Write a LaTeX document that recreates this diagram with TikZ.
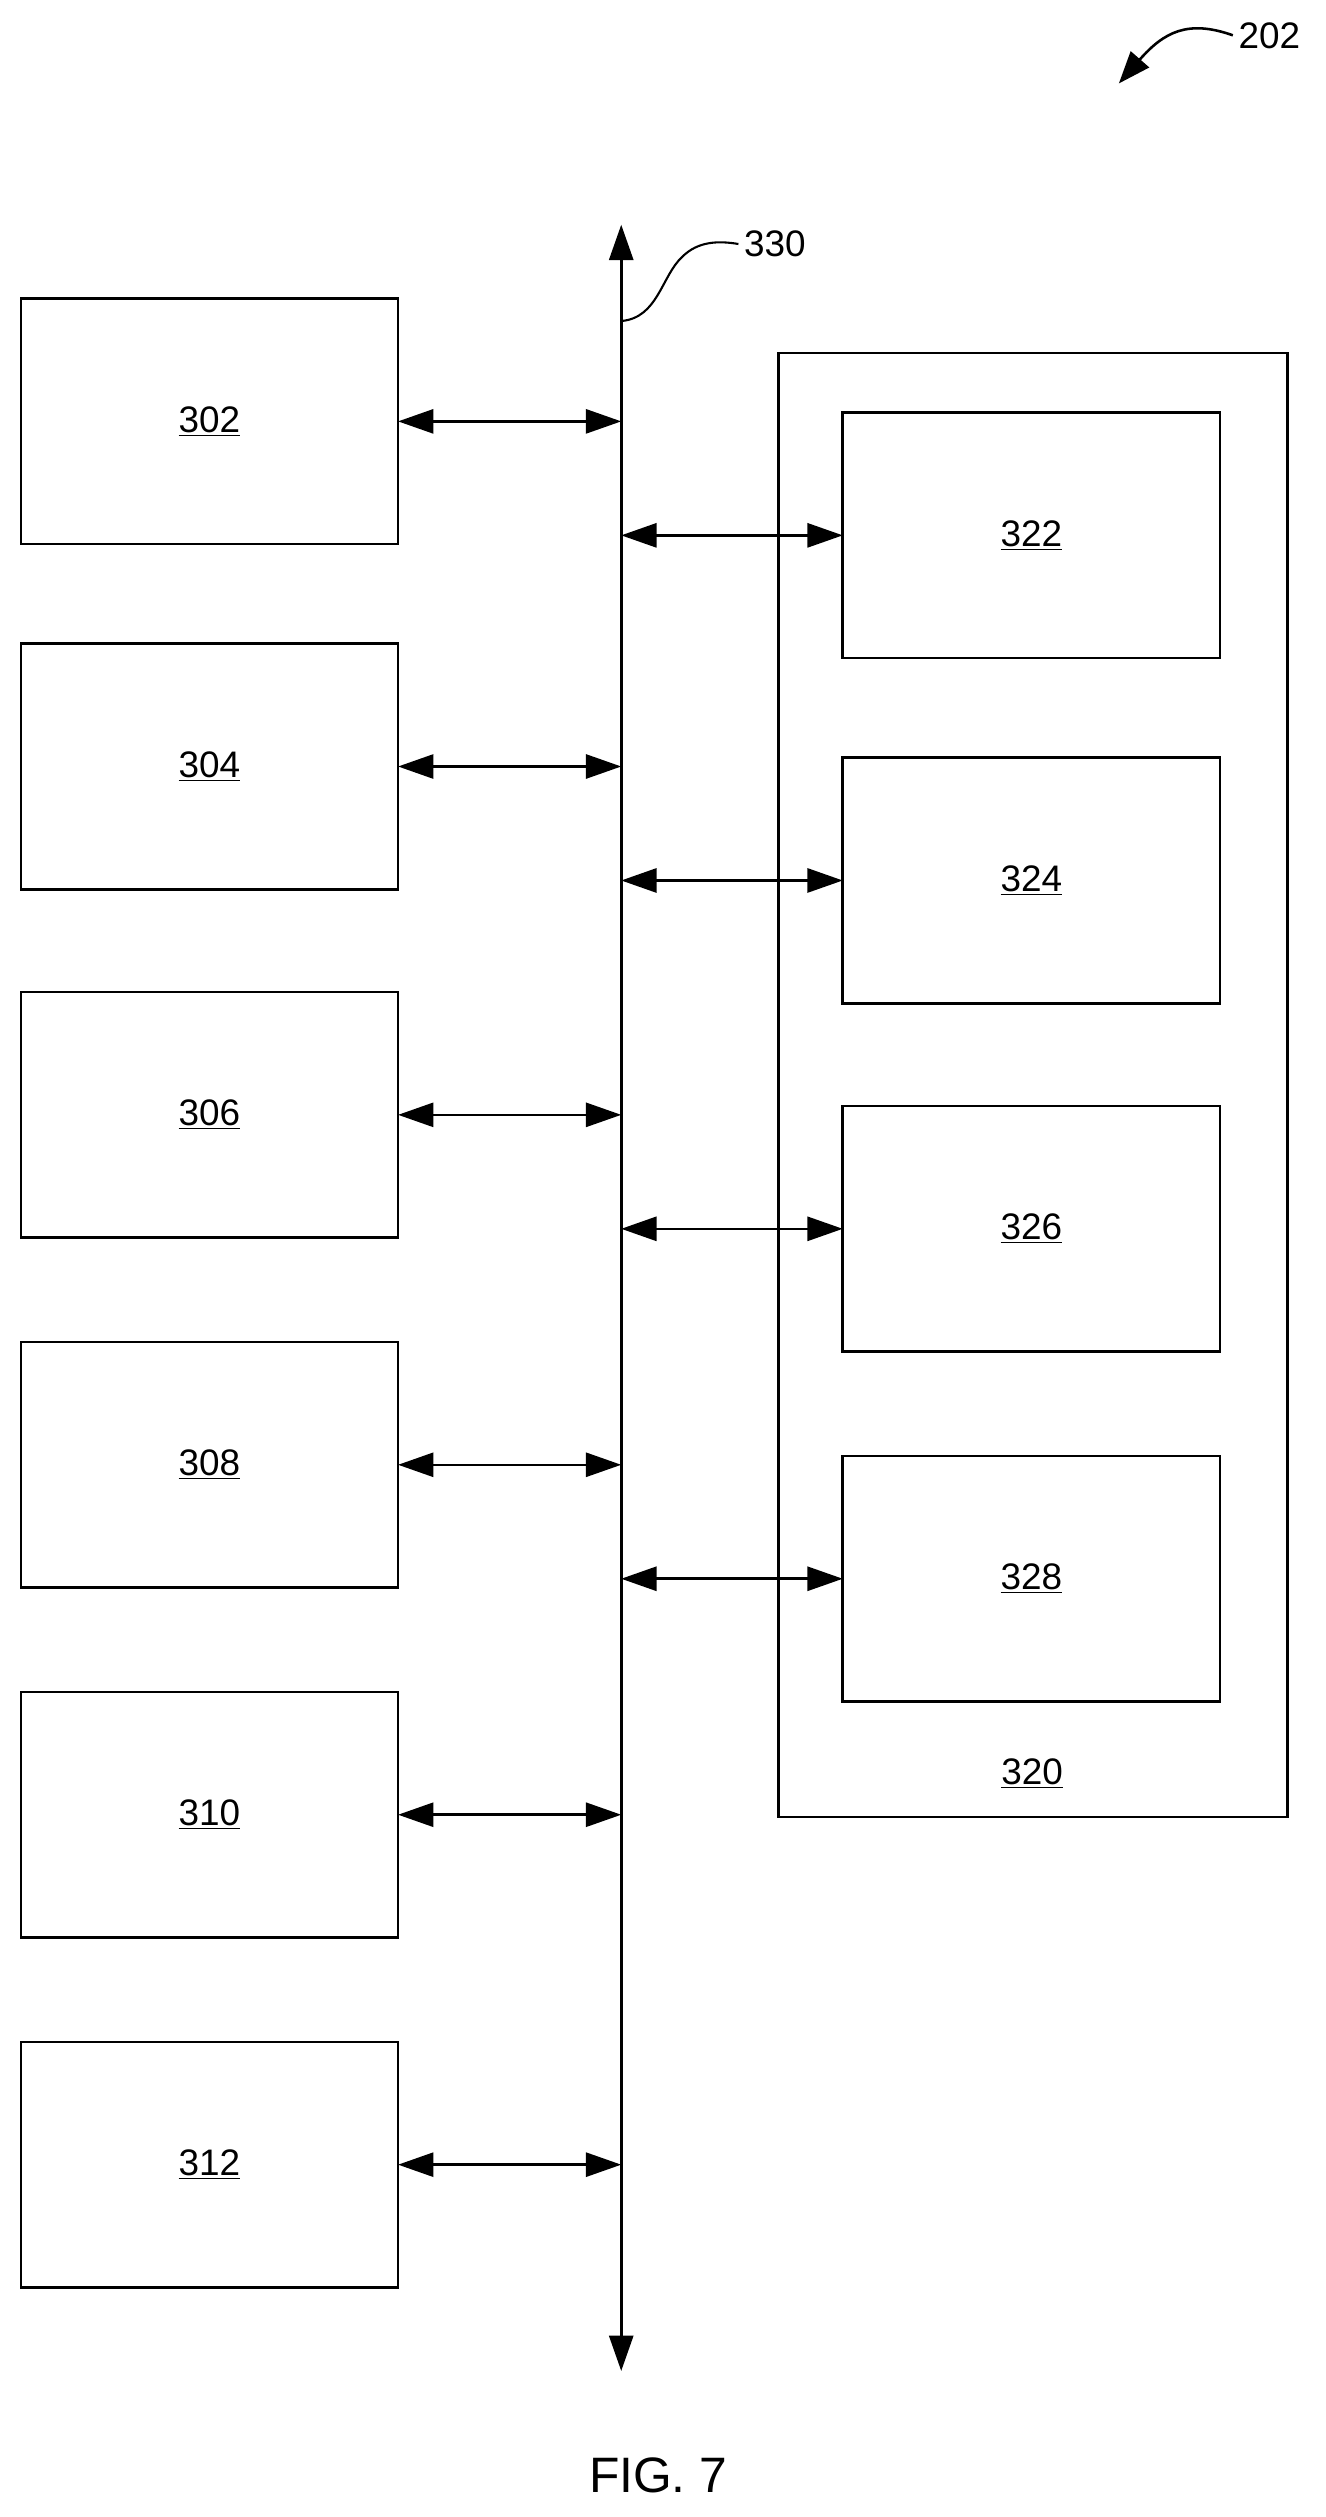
\documentclass[tikz,border=0pt]{standalone}
\usepackage{fontspec}
\setmainfont{Liberation Sans}
\usetikzlibrary{arrows.meta}
\begin{document}
\begin{tikzpicture}[x=1pt,y=-1pt,
  box/.style={draw,line width=1.6pt,inner sep=0pt},
  lbl/.style={font=\fontsize{23}{27}\selectfont},
  conn/.style={line width=1.6pt,{Triangle[length=22pt,width=15pt]}-{Triangle[length=22pt,width=15pt]}}]
\useasboundingbox (0,0) rectangle (826,1568);
\fill[white] (0,0) rectangle (826,1568);
% left boxes
\foreach \n/\t/\b in {302/186/339,304/401/554,306/618/771,308/836/989,310/1054/1207,312/1272/1425}{
  \draw[box] (13,\t) rectangle (248,\b);
  \node[lbl] (b\n) at (130.5,{(\t+\b)/2}) {\underline{\n}};
  \coordinate (l\n) at (248,{(\t+\b)/2});
  \coordinate (r\n) at (387,{(\t+\b)/2});
  \draw[conn] (l\n) -- (r\n);
}
% outer box
\draw[box] (485,220) rectangle (802,1132);
\node[lbl] (b320) at (643,1105) {\underline{320}};
\foreach \n/\t/\b in {322/257/410,324/472/625,326/689/842,328/907/1060}{
  \draw[box] (525,\t) rectangle (760,\b);
  \node[lbl] (b\n) at (642.5,{(\t+\b)/2}) {\underline{\n}};
  \coordinate (p\n) at (387,{(\t+\b)/2});
  \coordinate (q\n) at (525,{(\t+\b)/2});
  \draw[conn] (p\n) -- (q\n);
}
% bus
\coordinate (bt) at (387,140);
\coordinate (bb) at (387,1477);
\draw[conn] (bt) -- (bb);
\node[lbl,anchor=west] (l330) at (460,152) {330};
\coordinate (c330) at (387,200);
\draw[line width=1.3pt] (c330) .. controls (410,198) and (412,172) .. (425,160) .. controls (435,150) and (448,150) .. (l330.west);
% 202
\node[lbl,anchor=west] (l202) at (768,22) {202};
\coordinate (a202) at (697,52);
\draw[line width=1.6pt,-{Triangle[length=20pt,width=15pt]}] (l202.west) .. controls (740,12) and (725,20) .. (a202);
\node[font=\fontsize{31}{35}\selectfont] (fig) at (410,1542) {FIG. 7};
\end{tikzpicture}
\end{document}
